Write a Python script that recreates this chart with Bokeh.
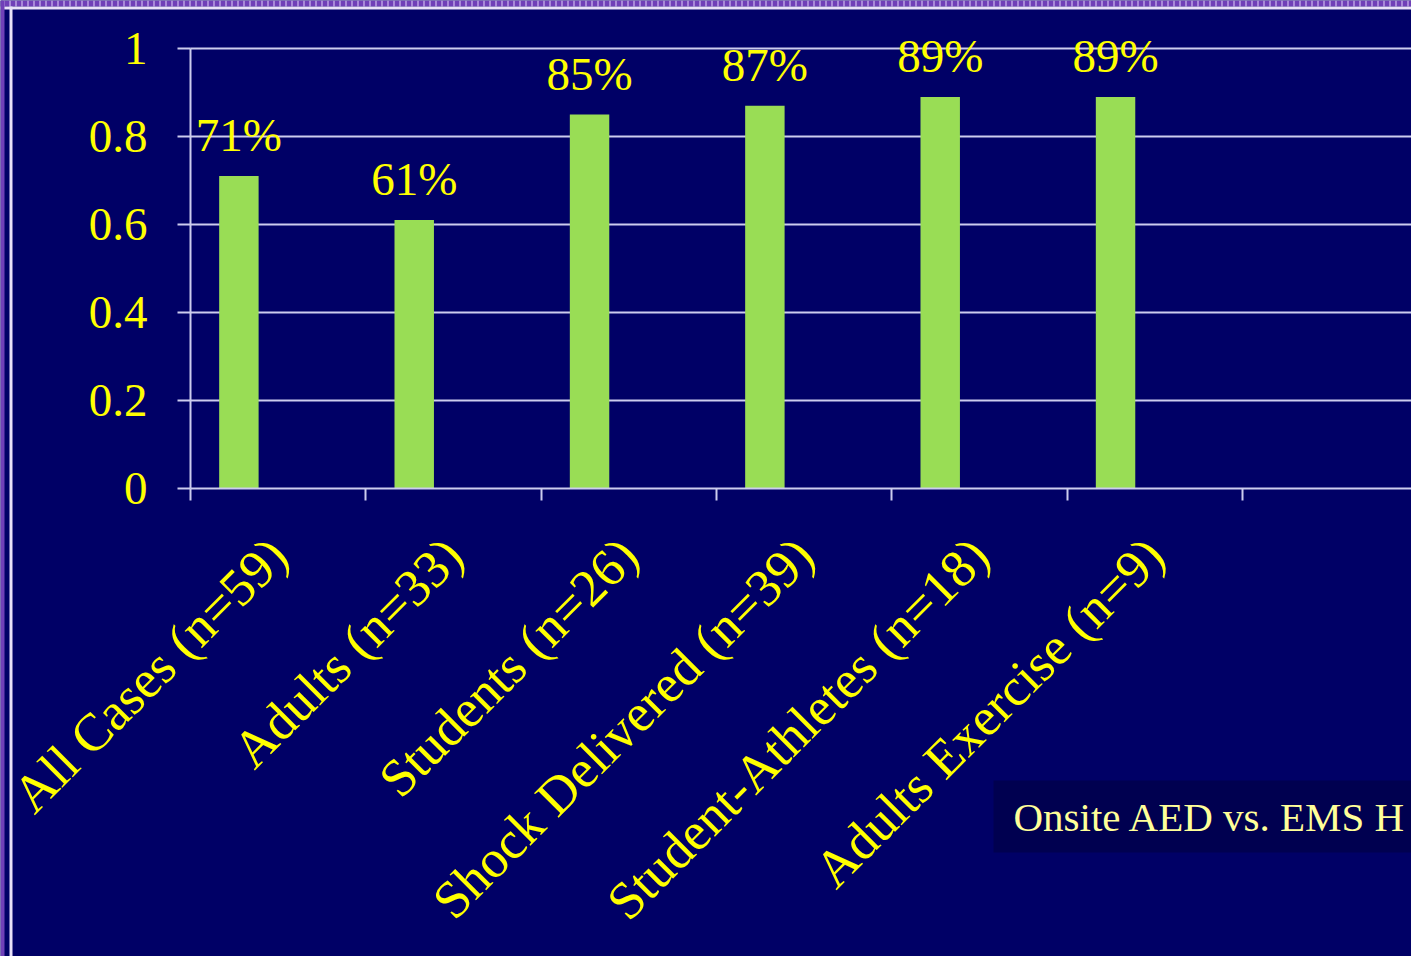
from bokeh.plotting import figure
from bokeh.models import (ColumnDataSource, LabelSet, Label, FixedTicker, Range1d,
                          BoxAnnotation, LinearAxis)
from bokeh.core.properties import value
from bokeh.embed import file_html
from bokeh.resources import INLINE

# ---- data ----
categories = ["All Cases (n=59)", "Adults (n=33)", "Students (n=26)",
              "Shock Delivered (n=39)", "Student-Athletes (n=18)", "Adults Exercise (n=9)"]
survival = [0.71, 0.61, 0.85, 0.87, 0.89, 0.89]
value_labels = ["71%", "61%", "85%", "87%", "89%", "89%"]
y_ticks = [0, 0.2, 0.4, 0.6, 0.8, 1.0]
y_tick_labels = ["0", "0.2", "0.4", "0.6", "0.8", "1"]
legend_text = "Onsite AED vs. EMS H"

BG = "#000066"
YELLOW = "#FFFF00"
GRID = "#CCCCEE"
FONT = "Liberation Serif"

W, H = 1411, 956
# layout (pixels): plot area origin and scale
X0, Y0 = 190, 488          # pixel position of (0, 0)
SLOT_PX, UNIT_PX = 175.33, 440.0
x_start, x_end = -X0 / SLOT_PX, (W - X0) / SLOT_PX
y_start, y_end = -(H - Y0) / UNIT_PX, Y0 / UNIT_PX

n = len(categories)
slot = list(range(n))
bar_x = [i + 0.276 for i in slot]
cat_x = [i + 0.5 for i in slot]
src = ColumnDataSource(dict(x=bar_x, top=survival, lab=value_labels,
                            cx=cat_x, cy=[0] * n, cat=categories))

p = figure(width=W, height=H, output_backend="svg", toolbar_location=None,
           x_range=Range1d(x_start, x_end), y_range=Range1d(y_start, y_end),
           min_border=0, x_axis_location=None, y_axis_location=None)
p.background_fill_color = BG
p.border_fill_color = BG
p.outline_line_color = None
p.grid.grid_line_color = None

# gridlines from tick values
grid_y = y_ticks[1:]
p.segment(x0=[0] * len(grid_y), x1=[x_end] * len(grid_y), y0=grid_y, y1=grid_y,
          line_color=GRID, line_width=2)

p.vbar(x="x", top="top", bottom=0, width=0.225, source=src,
       fill_color="#99DD55", line_color=None)

# y axis
yax = LinearAxis(fixed_location=0, bounds=(0, 1))
yax.ticker = FixedTicker(ticks=y_ticks)
yax.major_label_overrides = {t: l for t, l in zip(y_ticks, y_tick_labels)}
yax.major_label_text_font = FONT
yax.major_label_text_font_size = "47px"
yax.major_label_text_color = YELLOW
yax.major_label_standoff = 30
yax.major_tick_out = 13
yax.major_tick_in = 0
yax.minor_tick_line_color = None
yax.axis_line_color = GRID
yax.axis_line_width = 2
yax.major_tick_line_color = GRID
yax.major_tick_line_width = 2
p.add_layout(yax, "left")

# x axis: ticks at slot boundaries, no labels
xt = list(range(n + 2))
xax = LinearAxis(fixed_location=0, bounds=(0, x_end))
xax.ticker = FixedTicker(ticks=xt)
xax.major_label_overrides = {t: "" for t in xt}
xax.major_tick_out = 12
xax.major_tick_in = 0
xax.minor_tick_line_color = None
xax.axis_line_color = GRID
xax.axis_line_width = 2
xax.major_tick_line_color = GRID
xax.major_tick_line_width = 2
p.add_layout(xax, "below")

# value labels
p.add_layout(LabelSet(x="x", y="top", text="lab", source=src, y_offset=25,
                      text_align="center", text_baseline="alphabetic",
                      text_font=value(FONT), text_font_size="47px",
                      text_color=YELLOW))
# category labels
p.add_layout(LabelSet(x="cx", y="cy", text="cat", source=src, y_offset=-58,
                      angle=45, angle_units="deg",
                      text_align="right", text_baseline="middle",
                      text_font=value(FONT), text_font_size="53px",
                      text_color=YELLOW))

# legend-like box
p.add_layout(BoxAnnotation(left=993, right=1411, top=780, bottom=852,
                           left_units="canvas", right_units="canvas",
                           top_units="canvas", bottom_units="canvas",
                           fill_color="#000050", fill_alpha=1, line_color=None))
p.add_layout(Label(x=1013, y=816, x_units="canvas", y_units="canvas",
                   text=legend_text, text_font=FONT, text_font_size="41px",
                   text_color="#FFFF99", text_baseline="alphabetic"))

# slide borders
p.add_layout(BoxAnnotation(left=0, right=1411, top=0, bottom=6,
                           left_units="canvas", right_units="canvas",
                           top_units="canvas", bottom_units="canvas",
                           fill_color="#7040B8", fill_alpha=1, line_color=None,
                           hatch_pattern="|", hatch_color="#E0D0F8", hatch_scale=6,
                           hatch_weight=1))
p.add_layout(BoxAnnotation(left=0, right=1411, top=6, bottom=9,
                           left_units="canvas", right_units="canvas",
                           top_units="canvas", bottom_units="canvas",
                           fill_color="#E8E0F8", fill_alpha=1, line_color=None))
p.add_layout(BoxAnnotation(left=0, right=4, top=0, bottom=956,
                           left_units="canvas", right_units="canvas",
                           top_units="canvas", bottom_units="canvas",
                           fill_color="#7040B8", fill_alpha=1, line_color=None))
p.add_layout(BoxAnnotation(left=9, right=12, top=6, bottom=956,
                           left_units="canvas", right_units="canvas",
                           top_units="canvas", bottom_units="canvas",
                           fill_color="#E8E0F8", fill_alpha=1, line_color=None))

open("out.html", "w").write(file_html(p, INLINE))
